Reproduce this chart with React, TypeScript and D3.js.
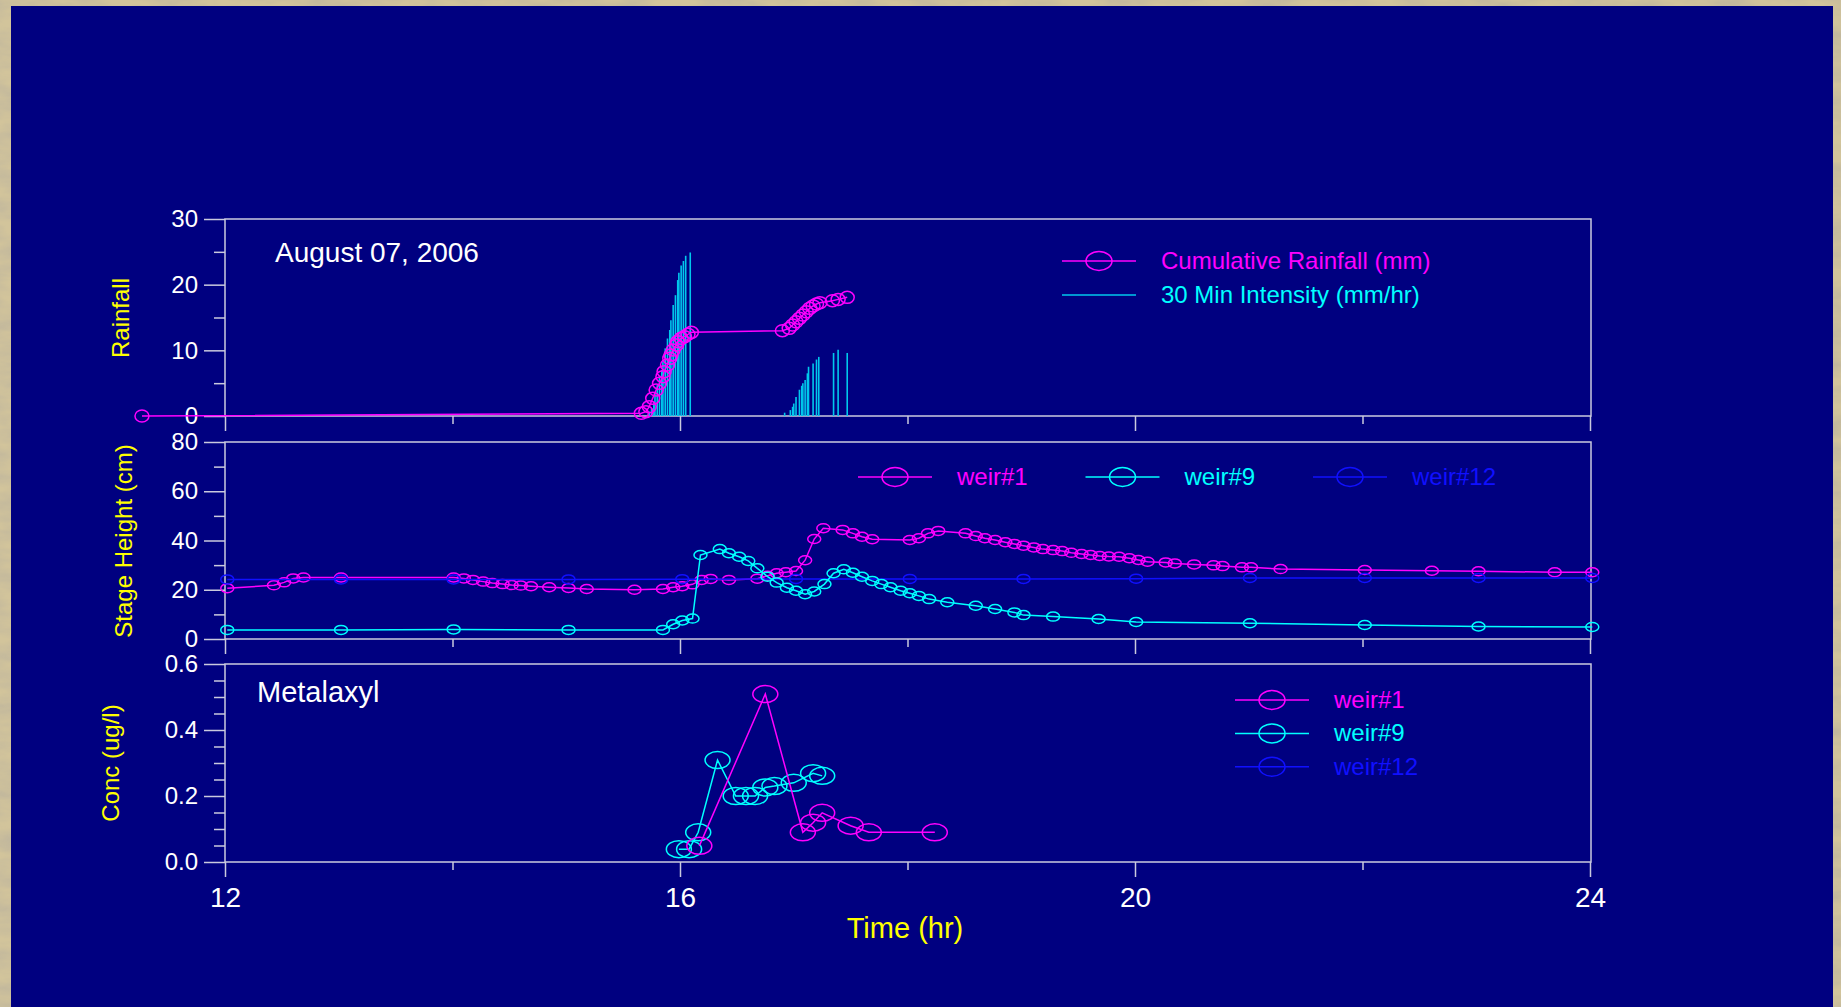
import * as d3 from "d3";
import { useEffect, useRef } from "react";

// ---- top panel: rainfall ----
const cumTime = [11.27, 15.66, 15.7, 15.73, 15.76, 15.79, 15.82, 15.85, 15.86, 15.89, 15.91, 15.92, 15.94, 15.97, 15.98, 16.01, 16.04, 16.07, 16.1, 16.9, 16.96, 16.99, 17.02, 17.05, 17.08, 17.11, 17.14, 17.17, 17.2, 17.23, 17.34, 17.39, 17.47];
const cumRain = [0, 0.41, 0.66, 1.42, 2.69, 3.96, 4.97, 5.99, 6.75, 7.77, 8.78, 9.29, 10.05, 10.81, 11.32, 11.83, 12.08, 12.44, 12.74, 12.99, 13.35, 13.86, 14.36, 14.87, 15.38, 15.88, 16.39, 16.75, 17.05, 17.26, 17.56, 17.76, 18.07];

const intTime = [15.73, 15.75, 15.77, 15.78, 15.8, 15.82, 15.84, 15.85, 15.87, 15.89, 15.91, 15.92, 15.94, 15.96, 15.98, 15.99, 16.01, 16.03, 16.05, 16.09, 16.92, 16.97, 16.99, 17.0, 17.02, 17.05, 17.07, 17.08, 17.1, 17.12, 17.13, 17.17, 17.2, 17.22, 17.35, 17.39, 17.47];
const intVal = [0.7, 1.2, 2.2, 3.5, 4.7, 6.0, 7.0, 8.3, 10.3, 11.8, 13.1, 14.6, 16.9, 18.4, 20.7, 21.8, 22.9, 23.6, 24.4, 24.9, 0.5, 0.9, 1.4, 1.9, 2.9, 4.0, 4.6, 5.0, 5.5, 6.5, 7.5, 8.0, 8.6, 9.0, 9.6, 10.1, 9.6];

// ---- middle panel: stage height ----
const stage1Time = [12.02, 12.43, 12.52, 12.6, 12.69, 13.02, 14.01, 14.1, 14.18, 14.27, 14.35, 14.44, 14.52, 14.6, 14.69, 14.85, 15.02, 15.18, 15.6, 15.85, 15.94, 16.02, 16.11, 16.19, 16.27, 16.43, 16.68, 16.77, 16.85, 16.93, 17.02, 17.1, 17.18, 17.26, 17.43, 17.52, 17.6, 17.69, 18.02, 18.1, 18.18, 18.27, 18.51, 18.6, 18.68, 18.77, 18.86, 18.94, 19.02, 19.11, 19.19, 19.28, 19.36, 19.44, 19.53, 19.61, 19.69, 19.77, 19.86, 19.95, 20.03, 20.11, 20.27, 20.35, 20.52, 20.69, 20.77, 20.94, 21.02, 21.28, 22.02, 22.61, 23.02, 23.69, 24.02];
const stage1 = [20.6, 21.8, 23.0, 24.6, 25.0, 25.0, 25.0, 24.6, 24.0, 23.3, 22.7, 22.3, 21.9, 21.7, 21.4, 21.0, 20.7, 20.3, 20.0, 20.3, 21.0, 21.4, 22.2, 24.0, 24.4, 24.0, 24.5, 25.7, 26.7, 27.1, 27.6, 32.0, 40.6, 45.0, 44.3, 42.9, 41.5, 40.5, 40.2, 40.9, 42.9, 43.9, 42.9, 41.8, 40.9, 40.2, 39.3, 38.6, 37.9, 37.2, 36.5, 36.1, 35.7, 35.0, 34.5, 34.1, 33.7, 33.5, 33.4, 32.8, 32.1, 31.4, 31.1, 30.7, 30.3, 29.9, 29.6, 29.1, 29.1, 28.4, 28.0, 27.7, 27.5, 27.1, 27.1];

const stage9Time = [12.02, 13.02, 14.01, 15.02, 15.85, 15.94, 16.02, 16.11, 16.18, 16.35, 16.43, 16.52, 16.6, 16.68, 16.77, 16.85, 16.94, 17.02, 17.1, 17.18, 17.27, 17.35, 17.44, 17.52, 17.6, 17.69, 17.77, 17.85, 17.94, 18.02, 18.1, 18.19, 18.35, 18.6, 18.77, 18.94, 19.02, 19.28, 19.68, 20.01, 21.01, 22.02, 23.02, 24.02];
const stage9 = [3.7, 3.7, 3.9, 3.7, 3.7, 6.0, 7.5, 8.3, 34.1, 36.5, 34.8, 33.4, 31.7, 28.7, 25.3, 22.9, 20.8, 19.6, 18.2, 19.3, 22.3, 26.7, 28.3, 26.9, 25.3, 23.6, 22.3, 21.0, 19.6, 18.6, 17.5, 16.2, 14.9, 13.5, 12.2, 10.8, 9.7, 9.1, 8.1, 6.9, 6.4, 5.7, 5.1, 4.9];

const stage12Time = [12.02, 13.02, 14.01, 15.02, 16.02, 17.02, 18.02, 19.02, 20.01, 21.01, 22.02, 23.02, 24.02];
const stage12 = [24.2, 24.2, 24.2, 24.2, 24.3, 24.4, 24.4, 24.4, 24.5, 24.8, 24.8, 24.8, 24.8];

// ---- bottom panel: metalaxyl ----
const conc1Time = [16.17, 16.75, 17.08, 17.17, 17.25, 17.5, 17.66, 18.24];
const conc1 = [0.049, 0.509, 0.09, 0.119, 0.149, 0.11, 0.09, 0.09];
const conc9Time = [15.99, 16.08, 16.16, 16.33, 16.49, 16.58, 16.66, 16.75, 16.83, 17.0, 17.17, 17.25];
const conc9 = [0.039, 0.039, 0.09, 0.309, 0.2, 0.2, 0.2, 0.226, 0.23, 0.24, 0.269, 0.261];

const xMajor = [12, 16, 20, 24];
const xMinor = [14, 18, 22];
const rainMajor = [0, 10, 20, 30];
const rainMinor = [5, 15, 25];
const stageMajor = [0, 20, 40, 60, 80];
const stageMinor = [10, 30, 50, 70];
const concMajor = [0, 0.2, 0.4, 0.6];
const concMinor = [0.05, 0.1, 0.15, 0.25, 0.3, 0.35, 0.45, 0.5, 0.55];

const weirNames = ["weir#1", "weir#9", "weir#12"];

const MAG = "#ff00ff";
const CYAN = "#00ffff";
const BLUE = "#1010ff";
const BAR = "#00c8ec";
const AXIS = "#cacade";
const FONT = "'Liberation Sans', Arial, sans-serif";

export default function App() {
  const ref = useRef<SVGSVGElement>(null);

  useEffect(() => {
    if (!ref.current) return;
    const svg = d3.select(ref.current);
    svg.selectAll("*").remove();

    const W = 1841;
    const H = 1007;
    svg.attr("width", W).attr("height", H).attr("viewBox", `0 0 ${W} ${H}`);

    // background: textured beige + navy panel
    const defs = svg.append("defs");
    const f = defs.append("filter").attr("id", "marble").attr("x", 0).attr("y", 0).attr("width", 1).attr("height", 1);
    f.append("feTurbulence").attr("type", "fractalNoise").attr("baseFrequency", "0.02 0.06").attr("numOctaves", 4).attr("seed", 3);
    f.append("feColorMatrix").attr("type", "matrix").attr("values", "0 0 0 0 0.5  0 0 0 0 0.45  0 0 0 0 0.34  0 0 0 -2 1.4");
    svg.append("rect").attr("width", W).attr("height", H).attr("fill", "#d2c49b");
    svg.append("rect").attr("width", W).attr("height", H).attr("filter", "url(#marble)").attr("opacity", 0.7);
    svg.append("rect").attr("x", 11).attr("y", 6).attr("width", 1822).attr("height", H).attr("fill", "#000080");

    const x = d3.scaleLinear().domain([12, 24]).range([225, 1590]);
    const yRain = d3.scaleLinear().domain([0, 30]).range([416, 219]);
    const yStage = d3.scaleLinear().domain([0, 80]).range([639, 442]);
    const yConc = d3.scaleLinear().domain([0, 0.6]).range([862, 664]);

    const drawFrame = (y: d3.ScaleLinear<number, number>, major: number[], minor: number[], fmt: (d: number) => string, xLabels: boolean) => {
      const [y0, y1] = y.range();
      const g = svg.append("g");
      // minor y ticks
      g.append("g")
        .attr("transform", `translate(${x(12)},0)`)
        .call(d3.axisLeft(y).tickValues(minor).tickSize(11).tickFormat(() => ""))
        .call(gg => gg.select(".domain").remove())
        .call(gg => gg.selectAll("line").attr("stroke", AXIS).attr("stroke-width", 1.5));
      // major y ticks
      g.append("g")
        .attr("transform", `translate(${x(12)},0)`)
        .call(d3.axisLeft(y).tickValues(major).tickSize(21).tickPadding(6).tickFormat(d => fmt(d as number)))
        .call(gg => gg.select(".domain").remove())
        .call(gg => gg.selectAll("line").attr("stroke", AXIS).attr("stroke-width", 1.5))
        .call(gg => gg.selectAll("text").attr("fill", "#ffffff").attr("font-size", 24).attr("font-family", FONT));
      // x ticks
      g.append("g")
        .attr("transform", `translate(0,${y0})`)
        .call(d3.axisBottom(x).tickValues(xMinor).tickSize(8).tickFormat(() => ""))
        .call(gg => gg.select(".domain").remove())
        .call(gg => gg.selectAll("line").attr("stroke", AXIS).attr("stroke-width", 1.5));
      g.append("g")
        .attr("transform", `translate(0,${y0})`)
        .call(d3.axisBottom(x).tickValues(xMajor).tickSize(15).tickFormat(d => (xLabels ? String(d) : "")))
        .call(gg => gg.select(".domain").remove())
        .call(gg => gg.selectAll("line").attr("stroke", AXIS).attr("stroke-width", 1.5))
        .call(gg => gg.selectAll("text").attr("fill", "#ffffff").attr("font-size", 28).attr("font-family", FONT).attr("y", 45).attr("dy", 0));
      // box
      g.append("rect")
        .attr("x", x(12))
        .attr("y", y1)
        .attr("width", x(24) - x(12) + 1)
        .attr("height", y0 - y1)
        .attr("fill", "none")
        .attr("stroke", AXIS)
        .attr("stroke-width", 1.5);
    };

    drawFrame(yRain, rainMajor, rainMinor, d => String(d), false);
    drawFrame(yStage, stageMajor, stageMinor, d => String(d), false);
    drawFrame(yConc, concMajor, concMinor, d => d.toFixed(1), true);

    const series = (
      times: number[],
      vals: number[],
      y: d3.ScaleLinear<number, number>,
      color: string,
      rx: number,
      ry: number,
    ) => {
      const pts = times.map((t, i) => [t, vals[i]] as [number, number]);
      const line = d3
        .line<[number, number]>()
        .x(d => x(d[0]))
        .y(d => y(d[1]));
      const g = svg.append("g");
      g.append("path").attr("d", line(pts)).attr("fill", "none").attr("stroke", color).attr("stroke-width", 1.5);
      g.selectAll("ellipse")
        .data(pts)
        .join("ellipse")
        .attr("cx", d => x(d[0]))
        .attr("cy", d => y(d[1]))
        .attr("rx", rx)
        .attr("ry", ry)
        .attr("fill", "none")
        .attr("stroke", color)
        .attr("stroke-width", 1.5);
    };

    // intensity bars
    svg.append("g")
      .selectAll("line")
      .data(intTime.map((t, i) => [t, intVal[i]]))
      .join("line")
      .attr("x1", d => x(d[0]))
      .attr("x2", d => x(d[0]))
      .attr("y1", yRain(0))
      .attr("y2", d => yRain(d[1]))
      .attr("stroke", BAR)
      .attr("stroke-width", 1.6);

    series(cumTime, cumRain, yRain, MAG, 7, 6);

    series(stage1Time, stage1, yStage, MAG, 6.5, 4.5);
    series(stage12Time, stage12, yStage, BLUE, 6.5, 4.5);
    series(stage9Time, stage9, yStage, CYAN, 6.5, 4.5);

    series(conc9Time, conc9, yConc, CYAN, 12.5, 8.5);
    series(conc1Time, conc1, yConc, MAG, 12.5, 8.5);

    // legends
    const legendItem = (lx: number, ly: number, color: string, label: string, marker: boolean, lineColor = color) => {
      const g = svg.append("g");
      g.append("line").attr("x1", lx).attr("x2", lx + 74).attr("y1", ly).attr("y2", ly).attr("stroke", lineColor).attr("stroke-width", 1.5);
      if (marker)
        g.append("ellipse").attr("cx", lx + 37).attr("cy", ly).attr("rx", 13).attr("ry", 9.5).attr("fill", "none").attr("stroke", color).attr("stroke-width", 1.5);
      g.append("text")
        .attr("x", lx + 99)
        .attr("y", ly + 8)
        .attr("fill", color)
        .attr("font-size", 24)
        .attr("font-family", FONT)
        .text(label);
    };

    legendItem(1062, 261, MAG, "Cumulative Rainfall (mm)", true);
    legendItem(1062, 295, CYAN, "30 Min Intensity (mm/hr)", false, BAR);

    const weirColors = [MAG, CYAN, BLUE];
    weirNames.forEach((n, i) => legendItem(858 + i * 227.5, 477, weirColors[i], n, true));
    weirNames.forEach((n, i) => legendItem(1235, 700 + i * 33.4, weirColors[i], n, true));

    // titles
    const txt = (tx: number, ty: number, s: string, size: number, color: string, rotate = false) => {
      svg.append("text")
        .attr("transform", `translate(${tx},${ty})${rotate ? " rotate(-90)" : ""}`)
        .attr("text-anchor", rotate ? "middle" : "start")
        .attr("fill", color)
        .attr("font-size", size)
        .attr("font-family", FONT)
        .text(s);
    };
    txt(275, 262, "August 07, 2006", 28, "#ffffff");
    txt(257, 702, "Metalaxyl", 29, "#ffffff");
    txt(129, 318, "Rainfall", 24, "#ffff00", true);
    txt(132, 541, "Stage Height (cm)", 24, "#ffff00", true);
    txt(119, 763, "Conc (ug/l)", 24, "#ffff00", true);
    svg.append("text")
      .attr("x", 905)
      .attr("y", 938)
      .attr("text-anchor", "middle")
      .attr("fill", "#ffff00")
      .attr("font-size", 29)
      .attr("font-family", FONT)
      .text("Time (hr)");
  }, []);

  return (
    <div style={{ position: "fixed", left: 0, top: 0, width: 1841, height: 1007, overflow: "hidden" }}>
      <svg ref={ref} style={{ display: "block" }} />
    </div>
  );
}
